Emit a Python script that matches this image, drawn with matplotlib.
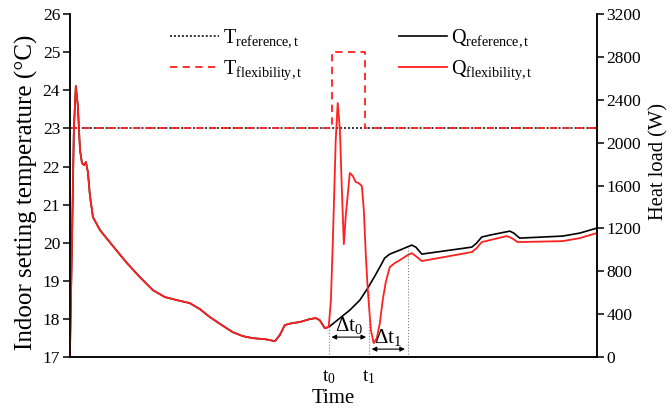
import matplotlib.pyplot as plt

plt.rcParams['font.family'] = 'Liberation Serif'
plt.rcParams['mathtext.fontset'] = 'custom'
plt.rcParams['mathtext.rm'] = 'Liberation Serif'
plt.rcParams['mathtext.it'] = 'Liberation Serif:italic'

# time in hours (axis has no numeric ticks)
time_red = [0, 0.09, 0.18, 0.27, 0.36, 0.46, 0.55, 0.64, 0.73, 0.82, 0.91, 1.05, 1.37, 1.96,
            2.60, 3.19, 3.78, 4.33, 4.87, 5.46, 5.92, 6.38, 6.92, 7.42, 7.88, 8.33, 8.88,
            9.34, 9.56, 9.79, 10.11, 10.47, 10.93, 11.20, 11.38, 11.61, 11.79, 11.89, 11.98,
            12.11, 12.20, 12.30, 12.39, 12.48, 12.57, 12.75, 12.89, 13.02, 13.16, 13.30,
            13.39, 13.48, 13.57, 13.71, 13.84, 13.98, 14.12, 14.25, 14.39, 14.57, 14.80,
            15.03, 15.39, 15.57, 15.76, 16.03, 18.31, 18.53, 18.76, 19.13, 19.90, 20.13,
            20.40, 22.45, 23.23, 24.00]
q_flex = [0, 998, 2118, 2528, 2351, 1931, 1810, 1791, 1819, 1726, 1511, 1306, 1185, 1036,
          877, 746, 625, 560, 532, 504, 448, 373, 299, 233, 196, 177, 168,
          149, 205, 299, 317, 327, 355, 364, 345, 271, 280, 532, 1091,
          2024, 2370, 2118, 1558, 1054, 1325, 1717, 1689, 1633, 1623, 1595,
          1371, 952, 625, 252, 131, 177, 317, 532, 700, 840, 877,
          905, 952, 970, 942, 896, 980, 1017, 1073, 1091, 1129, 1110,
          1073, 1082, 1110, 1157]

time_ref_tail = [12.30, 12.75, 13.21, 13.57, 13.89, 14.12, 14.34, 14.57, 15.03, 15.57,
                 15.76, 16.03, 18.31, 18.53, 18.76, 19.13, 20.04, 20.22, 20.49, 22.45,
                 23.23, 24.00]
q_ref_tail = [364, 438, 532, 644, 756, 840, 924, 961, 998, 1045,
              1026, 961, 1026, 1064, 1120, 1138, 1175, 1157, 1110, 1129,
              1157, 1203]
n_shared = time_red.index(11.79) + 1
time_ref = time_red[:n_shared] + time_ref_tail
q_ref = q_flex[:n_shared] + q_ref_tail

t_ref_time = [0, 24]
t_ref_val = [23, 23]
t_flex_time = [0, 11.93, 11.93, 13.43, 13.43, 24]
t_flex_val = [23, 23, 25, 25, 23, 23]

t0, t1, t2 = 11.79, 13.62, 15.39

fig = plt.figure(figsize=(6.72, 4.11), dpi=100)
ax = fig.add_axes([0.104, 0.131, 0.784, 0.835])
ax2 = ax.twinx()

l1, = ax.plot(t_ref_time, t_ref_val, color='black', ls=(0, (1.3, 1.3)), lw=1.1,
              label=r'T$_{\mathrm{reference,t}}$')
l2, = ax.plot(t_flex_time, t_flex_val, color='#ff2020', ls=(0, (4, 3)), lw=1.3,
              label=r'T$_{\mathrm{flexibility,t}}$')
l3, = ax2.plot(time_ref, q_ref, color='black', lw=1.2, label=r'Q$_{\mathrm{reference,t}}$')
l4, = ax2.plot(time_red, q_flex, color='#ff2020', lw=1.3, label=r'Q$_{\mathrm{flexibility,t}}$')

ax.set_xlim(0, 24)
ax.set_ylim(17, 26)
ax.set_yticks(range(17, 27))
ax2.set_ylim(0, 3200)
ax2.set_yticks(range(0, 3201, 400))

# guide lines and intervals
ax2.plot([t0, t0], [0, 280], color='gray', ls=':', lw=0.8)
ax2.plot([t1, t1], [0, 625], color='gray', ls=':', lw=0.8)
ax2.plot([t2, t2], [0, 1026], color='gray', ls=':', lw=0.8)
ax2.annotate('', xy=(t0, 187), xytext=(t1, 187),
             arrowprops=dict(arrowstyle='<|-|>', color='black', lw=0.8, mutation_scale=7))
ax2.annotate('', xy=(t1, 75), xytext=(t2, 75),
             arrowprops=dict(arrowstyle='<|-|>', color='black', lw=0.8, mutation_scale=7))
ax2.text((t0 + t1) / 2, 200, r'$\Delta$t$_0$', ha='center', va='bottom', fontsize=15)
ax2.text((t1 + t2) / 2, 86, r'$\Delta$t$_1$', ha='center', va='bottom', fontsize=15)

ax.set_xticks([t0, t1])
ax.set_xticklabels(['t$_0$', 't$_1$'], fontsize=14)
ax.tick_params(axis='x', length=0, pad=8)
ax.set_xlabel('Time', fontsize=15, labelpad=2)
ax.set_ylabel('Indoor setting temperature (°C)', fontsize=18, labelpad=3)
ax2.set_ylabel('Heat load (W)', fontsize=14.8, labelpad=6)
ax.yaxis.label.set_y(0.48)
ax2.yaxis.label.set_y(0.57)

for a in (ax, ax2):
    a.spines['top'].set_visible(False)
    for s in a.spines.values():
        s.set_linewidth(1.1)
ax.tick_params(axis='y', direction='out', length=5, width=1.1, labelsize=12.5, pad=2)
ax2.tick_params(axis='y', direction='out', length=5, width=1.1, labelsize=12.5, pad=2)

ax2.legend(handles=[l1, l2, l3, l4], ncol=2, frameon=False, fontsize=14.5,
           loc='upper left', bbox_to_anchor=(0.156, 1.013), handlelength=2.4,
           columnspacing=4.8, labelspacing=0.45, handletextpad=0.2)

fig.savefig('out.png', dpi=100)
